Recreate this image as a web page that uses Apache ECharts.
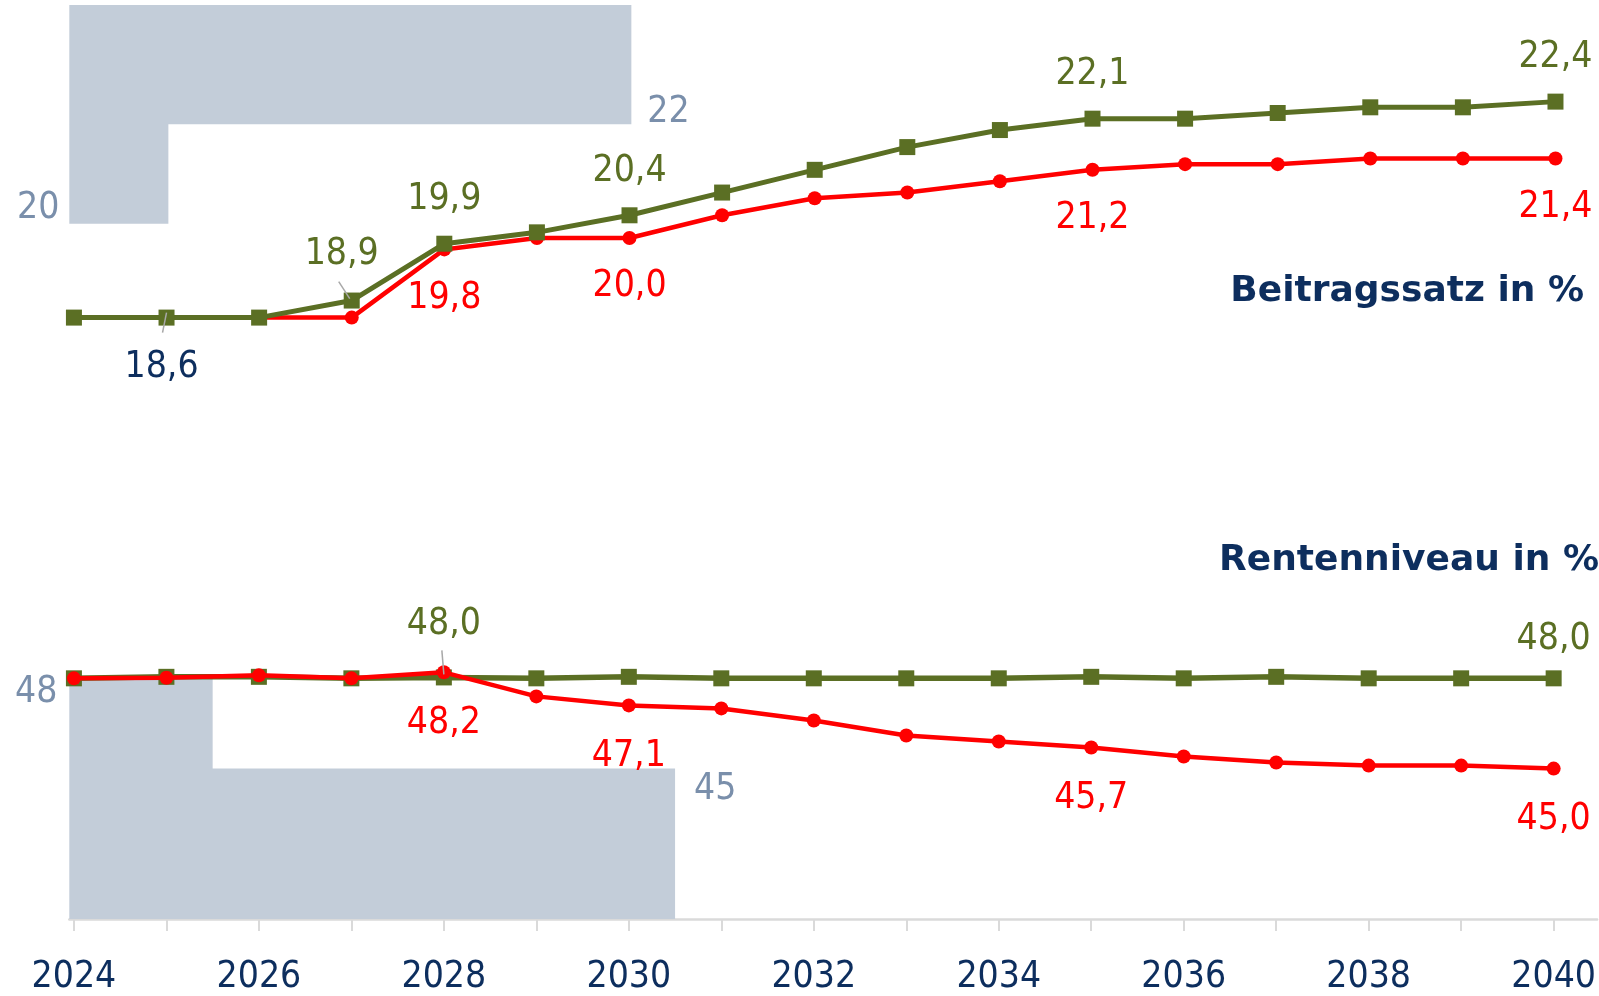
<!DOCTYPE html>
<html>
<head>
<meta charset="utf-8">
<script src="https://cdn.jsdelivr.net/npm/echarts@6/dist/echarts.min.js"></script>
<style>
html,body{margin:0;padding:0;background:#fff;}
#c{width:1599px;height:996px;}
</style>
</head>
<body>
<div id="c"></div>
<script>
// ---- data ----
const years = [2024,2025,2026,2027,2028,2029,2030,2031,2032,2033,2034,2035,2036,2037,2038,2039,2040];
const yearLabels = [2024,2026,2028,2030,2032,2034,2036,2038,2040];
const beitragGruen = [18.6,18.6,18.6,18.9,19.9,20.1,20.4,20.8,21.2,21.6,21.9,22.1,22.1,22.2,22.3,22.3,22.4];
const beitragRot   = [18.6,18.6,18.6,18.6,19.8,20.0,20.0,20.4,20.7,20.8,21.0,21.2,21.3,21.3,21.4,21.4,21.4];
const rentenGruen  = [48.0,48.05,48.05,48.0,48.03,48.0,48.05,48.0,48.0,48.0,48.0,48.05,48.0,48.05,48.0,48.0,48.0];
const rentenRot    = [48.0,48.02,48.1,48.0,48.2,47.4,47.1,47.0,46.6,46.1,45.9,45.7,45.4,45.2,45.1,45.1,45.0];
// Haltelinien (grey limit areas)
const beitragLimitYears  = [2023.95,2025.02,2030.02];
const beitragLimitValues = [20.25,22.0,22.0];
const beitragLimitText   = ['20','','22'];
const rentenLimitYears   = [2023.95,2025.5,2030.5];
const rentenLimitValues  = [48.0,45.0,45.0];
const rentenLimitText    = ['48','','45'];
// labelled points (indices)
const beitragGruenLabels = [3,4,6,11,16];
const beitragRotLabels   = [4,6,11,16];
const rentenGruenLabels  = [4,16];
const rentenRotLabels    = [4,6,11,16];
// points with a leader line (indices)
const beitragLeaders = [1,3];
const rentenLeaders  = [4];

// ---- styles ----
const FONT = '"DejaVu Sans Condensed","Liberation Sans Narrow","DejaVu Sans",sans-serif';
const TFONT = '"DejaVu Sans","Liberation Sans",sans-serif';
const FS = 37;
const GREEN = '#5b6f24';
const RED = '#ff0000';
const NAVY = '#0d2e5e';
const GREYFILL = '#c3cdd9';
const GREYTEXT = '#7a8fab';
const LEADER = '#a8a8a8';

const fmt = v => v.toFixed(1).replace('.', ',');

function buildData(vals, labelIdx, pos, color, dist, extra) {
  return years.map((y, i) => {
    const item = { value: [y, vals[i]] };
    if (labelIdx.includes(i) || (extra && extra[i])) {
      item.label = Object.assign({ show: true, position: pos, distance: dist, color: color,
        fontFamily: FONT, fontSize: FS, formatter: () => fmt(vals[i]) }, (extra && extra[i]) || {});
    }
    return item;
  });
}
function limitData(xs, vs, txt, offs) {
  return xs.map((x, i) => {
    const item = { value: [x, vs[i]] };
    if (txt[i]) {
      item.label = { show: true, formatter: txt[i], color: GREYTEXT, fontFamily: FONT, fontSize: FS,
        position: i === 0 ? 'left' : 'right', distance: i === 0 ? 12 : 19, offset: offs[i] };
    }
    return item;
  });
}
// leader line pixel geometry relative to the data point: [startDx, startDy, endDx, endDy]
const leaderGeom = {
  top:    { 1: [0, -5, -4, 15], 3: [-2, -2, -13, -19] },
  bottom: { 4: [0, -3, -2, -27] }
};
function leaderSeries(xIdx, yIdx, vals, idxs, geomKey) {
  return {
    type: 'custom', xAxisIndex: xIdx, yAxisIndex: yIdx, z: 10, silent: true,
    data: idxs.map(i => [years[i], vals[i], i]),
    renderItem: (params, api) => {
      const p = api.coord([api.value(0), api.value(1)]);
      const g = leaderGeom[geomKey][api.value(2)];
      return { type: 'line',
        shape: { x1: p[0] + g[0], y1: p[1] + g[1], x2: p[0] + g[2], y2: p[1] + g[3] },
        style: { stroke: LEADER, lineWidth: 1.5 } };
    }
  };
}

const X_MIN = 2023.95, X_MAX = 2040.47;

const option = {
  animation: false,
  title: [
    { text: 'Beitragssatz in %', right: 10, top: 269,
      textStyle: { fontFamily: TFONT, fontSize: 36, fontWeight: 'bold', color: NAVY } },
    { text: 'Rentenniveau in %', right: -5, top: 538,
      textStyle: { fontFamily: TFONT, fontSize: 36, fontWeight: 'bold', color: NAVY } }
  ],
  grid: [
    { left: 69.3, right: 0, top: 5, height: 346.7 },
    { left: 69.3, right: 0, top: 558, height: 364 }
  ],
  xAxis: [
    { gridIndex: 0, type: 'value', min: X_MIN, max: X_MAX, show: false },
    { gridIndex: 1, type: 'value', min: X_MIN, max: X_MAX,
      axisLine: { show: true, lineStyle: { color: '#dadada', width: 2.5 } },
      axisTick: { show: true, customValues: years, length: 12, lineStyle: { color: '#dadada', width: 2 } },
      axisLabel: { show: true, customValues: yearLabels, formatter: v => String(v), margin: 40,
        color: NAVY, fontFamily: FONT, fontSize: FS },
      splitLine: { show: false } }
  ],
  yAxis: [
    { gridIndex: 0, type: 'value', min: 18, max: 24.1, show: false, splitLine: { show: false } },
    { gridIndex: 1, type: 'value', min: 40, max: 52, show: false, splitLine: { show: false } }
  ],
  series: [
    { type: 'line', xAxisIndex: 0, yAxisIndex: 0, step: 'end', silent: true, z: 1,
      data: limitData(beitragLimitYears, beitragLimitValues, beitragLimitText, [[2,-15],[0,0],[-3,-12]]),
      symbol: 'circle', symbolSize: 0, showSymbol: true,
      lineStyle: { width: 0 }, itemStyle: { color: GREYFILL },
      areaStyle: { color: GREYFILL, opacity: 1, origin: 'end' } },
    { type: 'line', xAxisIndex: 1, yAxisIndex: 1, step: 'end', silent: true, z: 1,
      data: limitData(rentenLimitYears, rentenLimitValues, rentenLimitText, [[0,14],[0,0],[0,21]]),
      symbol: 'circle', symbolSize: 0, showSymbol: true,
      lineStyle: { width: 0 }, itemStyle: { color: GREYFILL },
      areaStyle: { color: GREYFILL, opacity: 1, origin: 'start' } },
    // top panel
    { type: 'line', xAxisIndex: 0, yAxisIndex: 0, z: 3, symbol: 'circle', symbolSize: 14,
      color: RED, lineStyle: { width: 4.5, color: RED }, itemStyle: { color: RED },
      data: buildData(beitragRot, beitragRotLabels, 'bottom', RED, 23) },
    { type: 'line', xAxisIndex: 0, yAxisIndex: 0, z: 4, symbol: 'rect', symbolSize: 16,
      color: GREEN, lineStyle: { width: 5, color: GREEN }, itemStyle: { color: GREEN },
      data: buildData(beitragGruen, beitragGruenLabels, 'top', GREEN, 17.5, {
        1: { position: 'bottom', distance: 19.5, color: NAVY, offset: [-5, 4] },
        3: { offset: [-10, -2] }
      }) },
    leaderSeries(0, 0, beitragGruen, beitragLeaders, 'top'),
    // bottom panel
    { type: 'line', xAxisIndex: 1, yAxisIndex: 1, z: 3, symbol: 'rect', symbolSize: 16,
      color: GREEN, lineStyle: { width: 5.5, color: GREEN }, itemStyle: { color: GREEN },
      data: buildData(rentenGruen, rentenGruenLabels, 'top', GREEN, 12.5, {
        4: { offset: [0, -14] }
      }) },
    { type: 'line', xAxisIndex: 1, yAxisIndex: 1, z: 4, symbol: 'circle', symbolSize: 14,
      color: RED, lineStyle: { width: 4.5, color: RED }, itemStyle: { color: RED },
      data: buildData(rentenRot, rentenRotLabels, 'bottom', RED, 25.5) },
    leaderSeries(1, 1, rentenGruen, rentenLeaders, 'bottom')
  ]
};
const chart = echarts.init(document.getElementById('c'), null, { renderer: 'canvas' });
chart.setOption(option);
</script>
</body>
</html>
